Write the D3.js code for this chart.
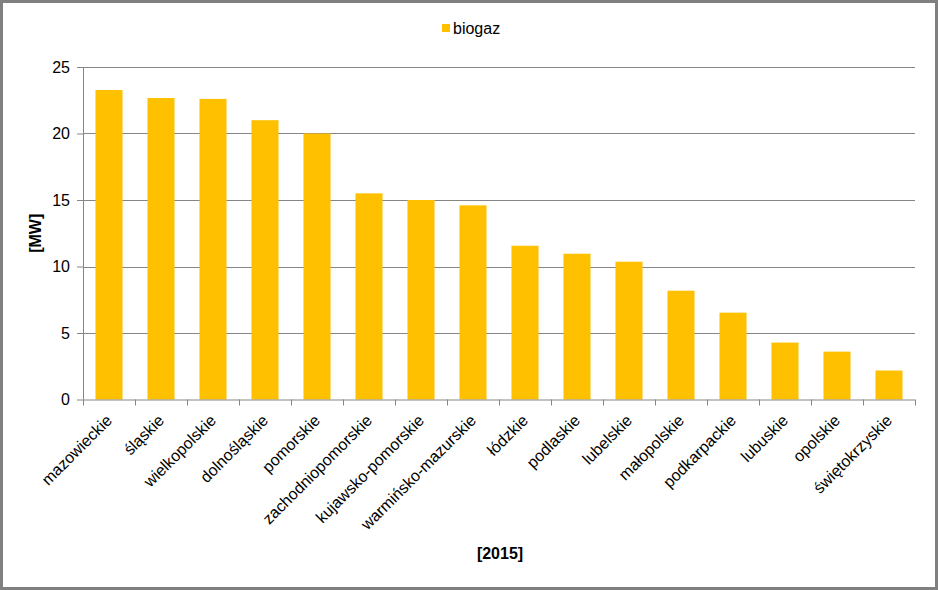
<!DOCTYPE html>
<html>
<head>
<meta charset="utf-8">
<script src="https://cdn.jsdelivr.net/npm/d3@7"></script>
<style>
  body { margin: 0; background: #fff; }
  svg { display: block; font-family: 'Liberation Sans', Arial, sans-serif; }
</style>
</head>
<body>
<svg id="chart"></svg>
<script>
const regions = [
  'mazowieckie', 'śląskie', 'wielkopolskie', 'dolnośląskie', 'pomorskie',
  'zachodniopomorskie', 'kujawsko-pomorskie', 'warmińsko-mazurskie', 'łódzkie',
  'podlaskie', 'lubelskie', 'małopolskie', 'podkarpackie', 'lubuskie', 'opolskie',
  'świętokrzyskie'
]
const biogaz = [23.27, 22.67, 22.6, 21.0, 20.0, 15.5, 15.0, 14.6, 11.56, 10.96, 10.36, 8.18, 6.53, 4.28, 3.6, 2.18]
const yTicks = [0, 5, 10, 15, 20, 25]
const seriesName = 'biogaz'
const yTitle = '[MW]'
const xTitle = '[2015]'

const W = 938, H = 590
const margin = { top: 67, right: 23, bottom: 190.5, left: 83 }
const width = W - margin.left - margin.right
const height = H - margin.top - margin.bottom
const fontSize = '16px'

const root = d3.select('#chart').attr('width', W).attr('height', H)

// outer frame
root.append('rect')
  .attr('x', 1.5).attr('y', 1.5)
  .attr('width', W - 3).attr('height', H - 3)
  .attr('fill', '#fff')
  .attr('stroke', '#808080')
  .attr('stroke-width', 3)

const svg = root.append('g').attr('transform', `translate(${margin.left},${margin.top})`)

const x = d3.scaleBand().domain(regions).range([0, width]).paddingInner(0.48).paddingOuter(0.24)
const y = d3.scaleLinear().domain([0, 25]).range([height, 0])

// gridlines
svg.append('g')
  .selectAll('line')
  .data(yTicks.filter((d) => d > 0))
  .join('line')
  .attr('x1', 0).attr('x2', width)
  .attr('y1', (d) => Math.round(y(d)) + 0.5)
  .attr('y2', (d) => Math.round(y(d)) + 0.5)
  .attr('stroke', '#868686')

// bars
svg.selectAll('.bar')
  .data(biogaz)
  .join('rect')
  .attr('class', 'bar')
  .attr('x', (d, i) => x(regions[i]))
  .attr('y', (d) => y(d))
  .attr('width', x.bandwidth())
  .attr('height', (d) => y(0) - y(d))
  .attr('fill', '#FFC000')

// y axis
const yAxis = svg.append('g')
  .call(d3.axisLeft(y).tickValues(yTicks).tickSize(6).tickPadding(7))
yAxis.select('.domain').attr('stroke', '#868686').attr('d', `M0.5,0V${height}`)
yAxis.selectAll('.tick line').attr('stroke', '#868686')
yAxis.selectAll('.tick text')
  .attr('fill', '#000')
  .style('font-size', fontSize)
  .style('font-family', "'Liberation Sans', Arial, sans-serif")

// x axis, ticks sit between categories
const xg = svg.append('g').attr('transform', `translate(0,${height})`)
xg.append('line')
  .attr('x1', 0).attr('x2', width)
  .attr('y1', 0.5).attr('y2', 0.5)
  .attr('stroke', '#868686')
xg.selectAll('.sep')
  .data(d3.range(regions.length + 1))
  .join('line')
  .attr('class', 'sep')
  .attr('x1', (i) => Math.round(i * x.step()) + 0.5)
  .attr('x2', (i) => Math.round(i * x.step()) + 0.5)
  .attr('y1', 0).attr('y2', 6)
  .attr('stroke', '#868686')

xg.selectAll('.lbl')
  .data(regions)
  .join('text')
  .attr('class', 'lbl')
  .attr('transform', (d) => `translate(${x(d) + x.bandwidth() / 2},18) rotate(-45)`)
  .attr('text-anchor', 'end')
  .attr('dy', '0.35em')
  .style('font-size', fontSize)
  .text((d) => d)

// axis titles
root.append('text')
  .attr('transform', `translate(41,${margin.top + height / 2}) rotate(-90)`)
  .attr('text-anchor', 'middle')
  .style('font-size', fontSize)
  .style('font-weight', 'bold')
  .text(yTitle)

root.append('text')
  .attr('x', 500)
  .attr('y', 559)
  .attr('text-anchor', 'middle')
  .style('font-size', fontSize)
  .style('font-weight', 'bold')
  .text(xTitle)

// legend
const legend = root.append('g').attr('transform', 'translate(442,24)')
legend.append('rect').attr('width', 8).attr('height', 8).attr('fill', '#FFC000')
legend.append('text')
  .attr('x', 11).attr('y', 4.5)
  .attr('dy', '0.35em')
  .style('font-size', fontSize)
  .text(seriesName)
</script>
</body>
</html>
